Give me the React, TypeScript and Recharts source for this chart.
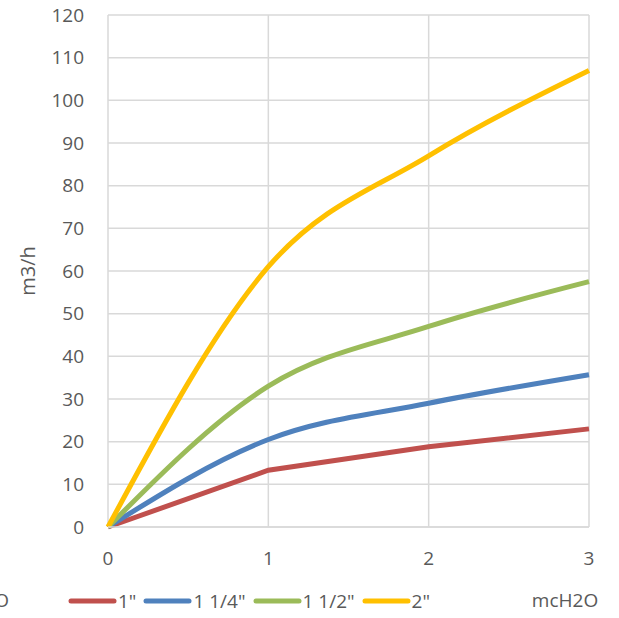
import React from 'react';
import { LineChart, Line, XAxis, YAxis, CartesianGrid, Label } from 'recharts';

// pressure drop (mcH2O) on the x axis
const pressure = [0, 1, 2, 3];

// flow in m3/h
const flow1 = [0, 13.3, 18.8, 23];
const flow114 = [0, 20.5, 29, 35.7];
const flow112 = [0, 33, 47, 57.5];
const flow2 = [0, 61, 87, 107];

const yTicks = [0, 10, 20, 30, 40, 50, 60, 70, 80, 90, 100, 110, 120];
const xTicks = [0, 1, 2, 3];

const series = [
  { key: 'd1', name: '1"', color: '#C0504D', values: flow1, curve: 'linear' },
  { key: 'd114', name: '1 1/4"', color: '#4F81BD', values: flow114, curve: 'monotone' },
  { key: 'd112', name: '1 1/2"', color: '#9BBB59', values: flow112, curve: 'monotone' },
  { key: 'd2', name: '2"', color: '#FFC000', values: flow2, curve: 'monotone' },
];

const data = pressure.map((p, i) => {
  const row: Record<string, number> = { p };
  series.forEach(s => { row[s.key] = s.values[i]; });
  return row;
});

const FONT = '"Open Sans", sans-serif';
const TEXT = '#595959';
const GRID = '#D9D9D9';

const XTitle = () => (
  <g fontFamily={FONT} fontSize={19} fill={TEXT}>
    <text x={565} y={607} textAnchor="middle" fill={TEXT}>mcH2O</text>
    <text x={9} y={607} textAnchor="end" fill={TEXT}>mcH2O</text>
  </g>
);

export default function App() {
  return (
    <div style={{ position: 'absolute', left: 0, top: 0, width: 619, height: 618, background: '#fff' }}>
      <LineChart
        width={619}
        height={618}
        data={data}
        margin={{ top: 15, right: 30, left: 0, bottom: 41 }}
      >
        <CartesianGrid stroke={GRID} strokeWidth={1.5} />
        <XAxis
          dataKey="p"
          type="number"
          domain={[0, 3]}
          ticks={xTicks}
          height={50}
          stroke={GRID}
          strokeWidth={1.5}
          tickLine={false}
          tickMargin={19}
          tick={{ fill: TEXT, fontSize: 19, fontFamily: FONT }}
        >
          <Label content={<XTitle />} />
        </XAxis>
        <YAxis
          type="number"
          domain={[0, 120]}
          ticks={yTicks}
          width={108}
          axisLine={false}
          tickLine={false}
          tickMargin={18}
          tick={{ fill: TEXT, fontSize: 19, fontFamily: FONT }}
        >
          <Label
            value="m3/h"
            angle={-90}
            position="insideLeft"
            offset={28}
            style={{ textAnchor: 'middle', fill: TEXT, fontSize: 20, fontFamily: FONT }}
          />
        </YAxis>
        {series.map(s => (
          <Line
            key={s.key}
            type={s.curve as any}
            dataKey={s.key}
            name={s.name}
            stroke={s.color}
            strokeWidth={5}
            dot={false}
            isAnimationActive={false}
          />
        ))}
      </LineChart>
      <div
        style={{
          position: 'absolute',
          left: 68,
          top: 588,
          display: 'flex',
          alignItems: 'center',
          fontFamily: FONT,
          fontSize: 19,
          color: TEXT,
          whiteSpace: 'nowrap',
        }}
      >
        {series.map(s => (
          <div key={s.key} style={{ display: 'flex', alignItems: 'center', marginRight: 7 }}>
            <svg width={49} height={8}>
              <line x1={3} y1={4} x2={46} y2={4} stroke={s.color} strokeWidth={5} strokeLinecap="round" />
            </svg>
            <span style={{ marginLeft: 1 }}>{s.name}</span>
          </div>
        ))}
      </div>
    </div>
  );
}
